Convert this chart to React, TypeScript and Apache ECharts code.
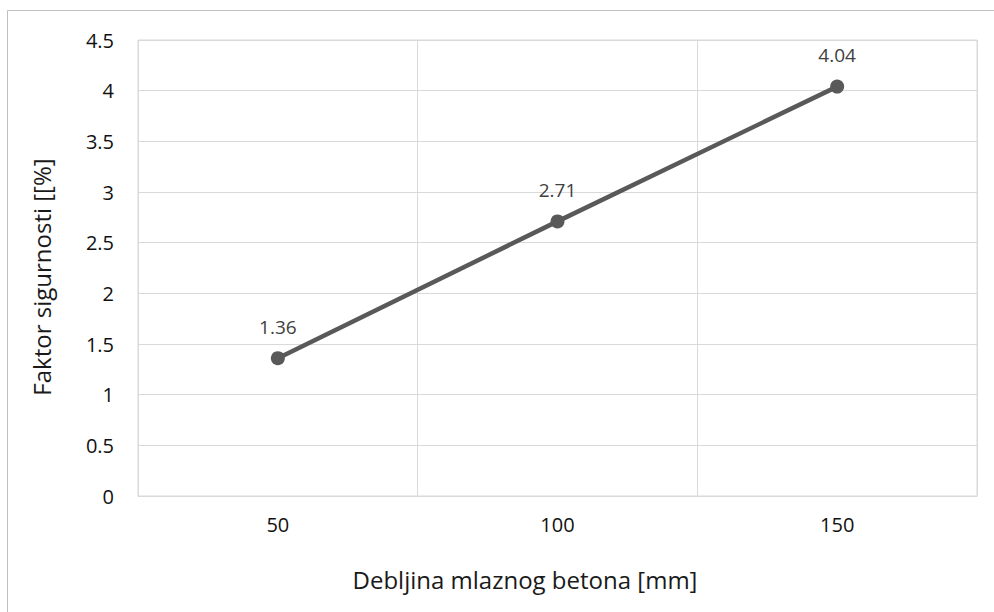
import React, { useEffect, useRef } from "react";
import * as echarts from "echarts";

const categories = ["50", "100", "150"];
const values = [1.36, 2.71, 4.04];
const xTitle = "Debljina mlaznog betona [mm]";
const yTitle = "Faktor sigurnosti [[%]";

export default function App() {
  const ref = useRef<HTMLDivElement>(null);
  useEffect(() => {
    const chart = echarts.init(ref.current!, null, { renderer: "svg" });
    const font = "Open Sans";
    chart.setOption({
      animation: false,
      backgroundColor: "#ffffff",
      graphic: [
        {
          type: "rect",
          shape: { x: 7.5, y: 10.5, width: 1100, height: 700 },
          style: { fill: "none", stroke: "#bfbfbf", lineWidth: 1 },
          silent: true,
        },
        {
          type: "text",
          x: 525,
          y: 579,
          style: {
            text: xTitle,
            fontFamily: font,
            fontSize: 24,
            fill: "#1a1a1a",
            align: "center",
            verticalAlign: "middle",
          },
        },
        {
          type: "text",
          x: 41,
          y: 277,
          rotation: Math.PI / 2,
          style: {
            text: yTitle,
            fontFamily: font,
            fontSize: 24,
            fill: "#1a1a1a",
            align: "center",
            verticalAlign: "middle",
          },
        },
      ],
      grid: {
        left: 138,
        right: 17,
        top: 40,
        bottom: 116,
        show: true,
        borderColor: "#d9d9d9",
        borderWidth: 1,
      },
      xAxis: {
        type: "category",
        data: categories,
        boundaryGap: true,
        axisLine: { show: true, lineStyle: { color: "#d9d9d9", width: 1 } },
        axisTick: { show: false },
        axisLabel: { fontFamily: font, fontSize: 20, color: "#111", margin: 18 },
        splitLine: { show: true, lineStyle: { color: "#d9d9d9", width: 1 } },
      },
      yAxis: {
        type: "value",
        min: 0,
        max: 4.5,
        interval: 0.5,
        axisLine: { show: false },
        axisTick: { show: false },
        axisLabel: { fontFamily: font, fontSize: 20, color: "#111", margin: 24 },
        splitLine: { show: true, lineStyle: { color: "#d9d9d9", width: 1 } },
      },
      series: [
        {
          type: "line",
          data: values,
          lineStyle: { color: "#595959", width: 4.5 },
          itemStyle: { color: "#595959" },
          symbol: "circle",
          symbolSize: 14,
          label: {
            show: true,
            position: "top",
            distance: 15,
            fontFamily: font,
            fontSize: 19,
            color: "#404040",
          },
        },
      ],
    });
    return () => chart.dispose();
  }, []);
  return (
    <div
      ref={ref}
      style={{ position: "absolute", left: 0, top: 0, width: 994, height: 612 }}
    />
  );
}
